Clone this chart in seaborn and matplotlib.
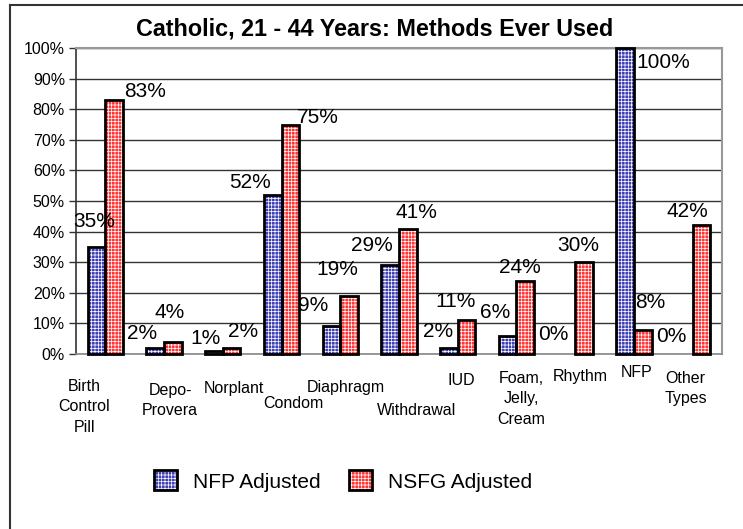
import matplotlib
matplotlib.use("Agg")
import matplotlib.pyplot as plt
import seaborn as sns
import pandas as pd
from matplotlib.patches import Rectangle
from matplotlib.lines import Line2D
from matplotlib.ticker import PercentFormatter

# ---------------- data ----------------
title = "Catholic, 21 - 44 Years: Methods Ever Used"
categories = ["Birth\nControl\nPill", "Depo-\nProvera", "Norplant", "Condom",
              "Diaphragm", "Withdrawal", "IUD", "Foam,\nJelly,\nCream",
              "Rhythm", "NFP", "Other\nTypes"]
series_names = ["NFP Adjusted", "NSFG Adjusted"]
nfp_values = [35, 2, 1, 52, 9, 29, 2, 6, 0, 100, 0]
nsfg_values = [83, 4, 2, 75, 19, 41, 11, 24, 30, 8, 42]
y_ticks = [0, 10, 20, 30, 40, 50, 60, 70, 80, 90, 100]

# ---------------- style ----------------
colors = {"NFP Adjusted": "#4040b4", "NSFG Adjusted": "#ff3434"}
# category label offsets (pixels) : dx, distance of top below axis
cat_dx = [-21, 6, 11, 12, 6, 18, 4, 5, 5, 3, -7]
cat_dy = [25, 29, 27, 42, 26, 49, 19, 17, 15, 11, 17]
# data label offsets (pixels) relative to bar top centre
lab_dx = [[-2, -13, -9, -23, -18, -18, -11, -13, -13, 38, -13],
          [31, -3, 11, 27, -12, 9, -11, -5, -6, 8, -14]]
lab_dy = [[27, 16, 14, 14, 23, 22, 18, 25, 21, -13, 19],
          [11, 31, 18, 9, 28, 18, 21, 15, 19, 29, 16]]

plt.rcParams["font.family"] = ["Liberation Sans", "DejaVu Sans"]
plt.rcParams["hatch.linewidth"] = 0.5

W, H = 743, 529
df = pd.DataFrame({
    "Method": categories * 2,
    "Series": [series_names[0]] * len(categories) + [series_names[1]] * len(categories),
    "Value": nfp_values + nsfg_values,
})

fig = plt.figure(figsize=(W / 100, H / 100), dpi=100)
fig.patch.set_facecolor("white")
ax = fig.add_axes([76 / W, 1 - 354 / H, 646 / W, 306 / H])

sns.barplot(data=df, x="Method", y="Value", hue="Series", order=categories,
            hue_order=series_names, palette=colors, width=0.6, saturation=1,
            ax=ax, legend=False, errorbar=None)

values = [nfp_values, nsfg_values]
for k, cont in enumerate(ax.containers):
    for j, p in enumerate(cont):
        p.set_edgecolor("white")
        p.set_linewidth(0)
        p.set_hatch("+++++")
        p.set_zorder(2)
        x0, w, h = p.get_x(), p.get_width(), p.get_height()
        if h > 0:
            ax.add_patch(Rectangle((x0, 0), w, h, fill=False, edgecolor="black",
                                   lw=2, zorder=3, clip_on=False))
        ax.annotate(f"{values[k][j]}%", xy=(x0 + w / 2, h), xycoords="data",
                    xytext=(lab_dx[k][j], lab_dy[k][j] - 7.5),
                    textcoords="offset pixels", ha="center", va="baseline",
                    fontsize=15, color="black", annotation_clip=False)

ax.set_xlim(-0.5, len(categories) - 0.5)
ax.set_ylim(0, 100)
ax.set_yticks(y_ticks)
ax.yaxis.set_major_formatter(PercentFormatter(decimals=0))
ax.tick_params(axis="y", labelsize=11.5, length=5, width=1, color="#333333", pad=3)
ax.tick_params(axis="x", length=0, labelbottom=False)
ax.set_xlabel("")
ax.set_ylabel("")
ax.set_axisbelow(True)
ax.yaxis.grid(True, color="#333333", lw=1, zorder=0)
ax.xaxis.grid(False)
ax.spines["left"].set_color("#333333")
ax.spines["left"].set_linewidth(1.2)
for s in ("top", "right"):
    ax.spines[s].set_color("#999999")
    ax.spines[s].set_linewidth(1.5)
ax.spines["bottom"].set_color("#888888")
ax.spines["bottom"].set_linewidth(1.2)

for i, cat in enumerate(categories):
    ax.annotate(cat, xy=(i, 0), xycoords=("data", "axes fraction"),
                xytext=(cat_dx[i], -cat_dy[i]), textcoords="offset pixels",
                ha="center", va="top", fontsize=11.5, linespacing=1.45,
                multialignment="center", annotation_clip=False)

fig.text(375 / W, 1 - 29 / H, title, ha="center", va="center",
         fontsize=16.8, fontweight="bold")

handles = []
for name in series_names:
    hp = Rectangle((0, 0), 1, 1, facecolor=colors[name], edgecolor="white",
                   lw=0, hatch="+++++")
    op = Rectangle((0, 0), 1, 1, fill=False, edgecolor="black", lw=2)
    handles.append((hp, op))
fig.legend(handles=handles, labels=series_names, loc="center",
           bbox_to_anchor=(343 / W, 1 - 481 / H), ncol=2, frameon=False,
           fontsize=15, handlelength=1.1, handleheight=1.1,
           handletextpad=0.77, columnspacing=1.4)

fig.add_artist(Line2D([10 / W, 1], [1 - 5 / H, 1 - 5 / H],
                      transform=fig.transFigure, color="#333333", lw=1.5))
fig.add_artist(Line2D([10 / W, 10 / W], [0, 1 - 5 / H],
                      transform=fig.transFigure, color="#333333", lw=1.5))

fig.savefig("out.png", dpi=100, facecolor="white")
